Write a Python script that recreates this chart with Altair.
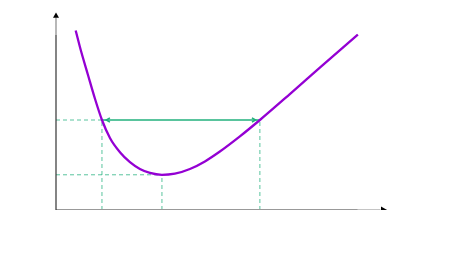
import altair as alt
import pandas as pd

# curve (x: 1 unit ~ 30.2px, y: 1 unit ~ 18px, origin at axes corner)
curve_x = [0.652, 0.795, 1.060, 1.291, 1.523, 1.788, 2.119, 2.450, 2.781, 3.113, 3.510,
           3.940, 4.437, 4.934, 5.430, 6.093, 6.755, 7.748, 8.742, 10.0]
curve_y = [9.97, 9.04, 7.5, 6.18, 5.0, 4.0, 3.21, 2.66, 2.28, 2.06, 1.956,
           2.02, 2.28, 2.70, 3.25, 4.09, 5.0, 6.44, 7.91, 9.75]

level_y = [5.0, 1.956]         # dashed horizontal levels
level_x_end = [1.523, 3.51]    # where they stop
vert_x = [1.523, 3.51, 6.755]  # dashed verticals
vert_top = [5.0, 1.956, 5.0]
arrow_y = 5.0
arrow_x1, arrow_x2 = 1.523, 6.755

PURPLE = "#9400d3"
GREEN = "#22b07d"

X = alt.X("x:Q", scale=alt.Scale(domain=[0, 11]), axis=None)
Y = alt.Y("y:Q", scale=alt.Scale(domain=[0, 11]), axis=None)

curve_df = pd.DataFrame({"x": curve_x, "y": curve_y})
hdash = pd.DataFrame({"x": [0] * len(level_y), "x2": level_x_end, "y": level_y})
vdash = pd.DataFrame({"x": vert_x, "y": [0] * len(vert_x), "y2": vert_top})
arrow_df = pd.DataFrame({"x": [arrow_x1], "x2": [arrow_x2], "y": [arrow_y]})
lhead = pd.DataFrame({"x": [arrow_x1 + 0.14], "y": [arrow_y]})
rhead = pd.DataFrame({"x": [arrow_x2 - 0.14], "y": [arrow_y]})

xaxis_main = pd.DataFrame({"x": [0], "x2": [10.0], "y": [0]})
xaxis_ext = pd.DataFrame({"x": [10.0], "x2": [10.75], "y": [0]})
yaxis_main = pd.DataFrame({"x": [0], "y": [0], "y2": [9.72]})
yaxis_ext = pd.DataFrame({"x": [0], "y": [9.72], "y2": [10.7]})
xhead = pd.DataFrame({"x": [10.87], "y": [0]})
yhead = pd.DataFrame({"x": [0], "y": [10.83]})

layers = [
    alt.Chart(hdash).mark_rule(color=GREEN, strokeDash=[4, 3], strokeWidth=1, opacity=0.75).encode(x=X, x2="x2:Q", y=Y),
    alt.Chart(vdash).mark_rule(color=GREEN, strokeDash=[4, 3], strokeWidth=1, opacity=0.75).encode(x=X, y=Y, y2="y2:Q"),
    alt.Chart(xaxis_main).mark_rule(color="#999999", strokeWidth=2).encode(x=X, x2="x2:Q", y=Y),
    alt.Chart(xaxis_ext).mark_rule(color="#c4c4c4", strokeWidth=2).encode(x=X, x2="x2:Q", y=Y),
    alt.Chart(yaxis_main).mark_rule(color="#333333", strokeWidth=1.2).encode(x=X, y=Y, y2="y2:Q"),
    alt.Chart(yaxis_ext).mark_rule(color="#888888", strokeWidth=1.2).encode(x=X, y=Y, y2="y2:Q"),
    alt.Chart(xhead).mark_point(shape="triangle-right", filled=True, color="black", size=50, opacity=1).encode(x=X, y=Y),
    alt.Chart(yhead).mark_point(shape="triangle-up", filled=True, color="black", size=36, opacity=1).encode(x=X, y=Y),
    alt.Chart(arrow_df).mark_rule(color=GREEN, strokeWidth=1.5).encode(x=X, x2="x2:Q", y=Y),
    alt.Chart(lhead).mark_point(shape="M1,-0.6L0,0L1,0.6", filled=False, color=GREEN, size=55, strokeWidth=1.5, opacity=1).encode(x=X, y=Y),
    alt.Chart(rhead).mark_point(shape="M-1,-0.6L0,0L-1,0.6", filled=False, color=GREEN, size=55, strokeWidth=1.5, opacity=1).encode(x=X, y=Y),
    alt.Chart(curve_df).mark_line(color=PURPLE, strokeWidth=2.3, interpolate="monotone").encode(x=X, y=Y),
]

chart = alt.layer(*layers).properties(
    width=332, height=198,
    autosize=alt.AutoSizeParams(type="none"),
    padding={"left": 48, "top": 4, "right": 0, "bottom": 0},
).configure_view(stroke=None)

chart.save("out.html", embed_options={"renderer": "svg", "actions": False})
